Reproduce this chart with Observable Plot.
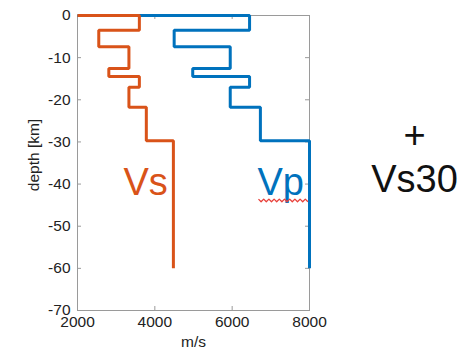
<!DOCTYPE html>
<html><head><meta charset="utf-8">
<script src="https://cdn.jsdelivr.net/npm/d3@7"></script>
<script src="https://cdn.jsdelivr.net/npm/@observablehq/plot@0.6"></script>
<style>
body{margin:0;background:#fff;}
#chart svg{overflow:visible;}
</style>
</head><body><div id="chart"></div>
<script>
// Layered velocity model (depth in km, negative downwards; velocity in m/s)
const layerTop    = [0, -3.5, -7.4, -12.6, -14.5, -17, -21.8, -29.7];
const layerBottom = [-3.5, -7.4, -12.6, -14.5, -17, -21.8, -29.7, -60];
const vsLayers = [3600, 2550, 3330, 2810, 3600, 3330, 3780, 4480];
const vpLayers = [6450, 4500, 5950, 4980, 6450, 5950, 6730, 8000];
const surfaceVelocity = 2000;
const xTicks = [2000, 4000, 6000, 8000];
const yTicks = [0, -10, -20, -30, -40, -50, -60, -70];
const seriesLabels = ["Vs", "Vp"];
const sideText = ["+", "Vs30"];
const xTitle = "m/s", yTitle = "depth [km]";

const vsColor = "#D95319", vpColor = "#0072BD";

function profile(vals) {
  const pts = [{v: surfaceVelocity, d: 0}];
  vals.forEach((v, i) => { pts.push({v, d: layerTop[i]}); pts.push({v, d: layerBottom[i]}); });
  return pts;
}
const vsProfile = profile(vsLayers);
const vpProfile = profile(vpLayers);

// annotation anchors (data coordinates)
const labelAnchors = [{t: seriesLabels[0], v: 3190, d: -42.5, c: vsColor}, {t: seriesLabels[1], v: 6655, d: -42.5, c: vpColor}];

const W = 462, H = 355;
const mL = 77, mR = 153, mT = 15, mB = 45;
const innerH = H - mT - mB, innerW = W - mL - mR;
const tk = 4, axisGray = "#9a9a9a";

const chart = Plot.plot({
  width: W, height: H,
  marginLeft: mL, marginRight: mR, marginTop: mT, marginBottom: mB,
  style: {fontFamily: "'Liberation Sans', Arial, Helvetica, sans-serif", fontSize: "15.5px", color: "#222", background: "#fff"},
  x: {domain: [2000, 8000]},
  y: {domain: [-70, 0]},
  marks: [
    Plot.frame({stroke: axisGray, strokeWidth: 1}),
    Plot.tickX(xTicks, {x: d => d, insetTop: innerH - tk, stroke: axisGray}),
    Plot.tickX(xTicks, {x: d => d, insetBottom: innerH - tk, stroke: axisGray}),
    Plot.tickY(yTicks, {y: d => d, insetRight: innerW - tk, stroke: axisGray}),
    Plot.tickY(yTicks, {y: d => d, insetLeft: innerW - tk, stroke: axisGray}),
    Plot.axisX(xTicks, {tickSize: 0, tickPadding: 5, label: xTitle, labelAnchor: "center", labelOffset: 36, labelArrow: "none", tickFormat: d => String(d)}),
    Plot.axisY(yTicks, {tickSize: 0, tickPadding: 7, label: null, tickFormat: d => String(d)}),
    Plot.text([yTitle], {frameAnchor: "left", text: d => d, rotate: -90, dx: -43, dy: -8, textAnchor: "middle", fill: "#222"}),
    Plot.line(vpProfile, {x: "v", y: "d", stroke: vpColor, strokeWidth: 3, strokeLinejoin: "miter", strokeLinecap: "butt"}),
    Plot.line(vsProfile, {x: "v", y: "d", stroke: vsColor, strokeWidth: 3, strokeLinejoin: "miter", strokeLinecap: "butt"}),
    Plot.text(labelAnchors, {x: "v", y: "d", text: "t", fill: "c", fontSize: 38, textAnchor: "start", lineAnchor: "bottom"}),
    Plot.text([sideText[0]], {frameAnchor: "right", text: d => d, dx: 105, dy: -27, fontSize: 38, textAnchor: "middle", fill: "#111"}),
    Plot.text([sideText[1]], {frameAnchor: "right", text: d => d, dx: 105, dy: 17, fontSize: 38, textAnchor: "middle", fill: "#111"})
  ]
});
document.getElementById("chart").appendChild(chart);
// spell-check style squiggle under "Vp" (decoration derived from the text's box)
d3.select(chart).selectAll("text").filter(function(){ return this.textContent === seriesLabels[1]; })
  .each(function() {
    const b = this.getBBox();
    const ctm = this.getCTM();
    const ox = ctm ? ctm.e : 0, oy = ctm ? ctm.f : 0;
    const baseline = b.y + b.height * 0.81 + oy;
    const x0 = b.x + ox + 1, x1 = b.x + ox + b.width + 2, y0 = baseline + 4.5;
    let dStr = `M${x0},${y0}`;
    const step = 2.6;
    for (let x = x0, i = 0; x < x1; x += step, i++) dStr += `L${x + step},${y0 + (i % 2 ? 0 : 2.6)}`;
    d3.select(chart).append("path").attr("d", dStr).attr("fill", "none").attr("stroke", "#e8403a").attr("stroke-width", 1.3).attr("stroke-linejoin", "round");
  });
</script>
</body></html>
